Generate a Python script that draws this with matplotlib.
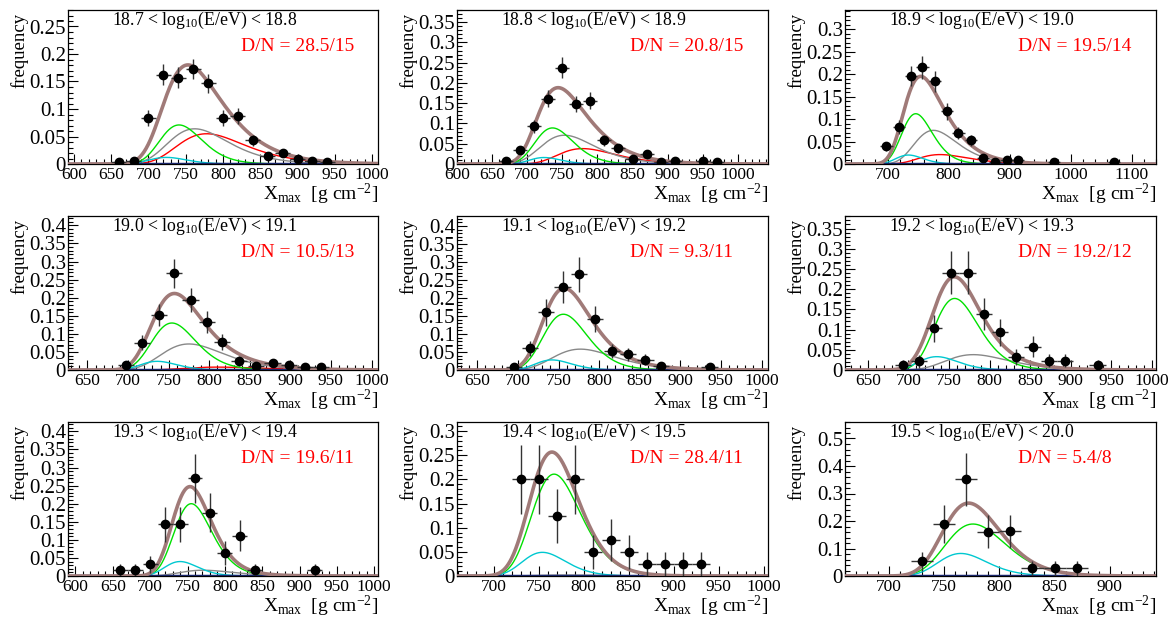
import numpy as np
import matplotlib
matplotlib.use('Agg')
import matplotlib.pyplot as plt
from matplotlib.ticker import MultipleLocator, FuncFormatter

plt.rcParams['font.family'] = 'Liberation Serif'
plt.rcParams['mathtext.fontset'] = 'custom'
plt.rcParams['mathtext.rm'] = 'Liberation Serif'
plt.rcParams['mathtext.it'] = 'Liberation Serif:italic'

# Data
titles = ['18.7 < log$_{10}$(E/eV) < 18.8', '18.8 < log$_{10}$(E/eV) < 18.9',
          '18.9 < log$_{10}$(E/eV) < 19.0', '19.0 < log$_{10}$(E/eV) < 19.1',
          '19.1 < log$_{10}$(E/eV) < 19.2', '19.2 < log$_{10}$(E/eV) < 19.3',
          '19.3 < log$_{10}$(E/eV) < 19.4', '19.4 < log$_{10}$(E/eV) < 19.5',
          '19.5 < log$_{10}$(E/eV) < 20.0']
dn_labels = ['D/N = 28.5/15', 'D/N = 20.8/15', 'D/N = 19.5/14',
             'D/N = 10.5/13', 'D/N = 9.3/11', 'D/N = 19.2/12',
             'D/N = 19.6/11', 'D/N = 28.4/11', 'D/N = 5.4/8']

x_ranges = [(592, 1008), (600, 1043), (630, 1140),
            (626, 1008), (625, 1008), (622, 1005),
            (590, 1005), (659, 1005), (660, 942)]
y_tops = [0.28, 0.38, 0.343, 0.426, 0.428, 0.381, 0.426, 0.319, 0.56]
x_major = [50, 50, 100, 50, 50, 50, 50, 50, 50]
y_major = [0.05, 0.05, 0.05, 0.05, 0.05, 0.05, 0.05, 0.05, 0.1]

xmax_bins = [
    [660, 680, 700, 720, 740, 760, 780, 800, 820, 840, 860, 880, 900, 920, 940],
    [670, 690, 710, 730, 750, 770, 790, 810, 830, 850, 870, 890, 910, 950, 970],
    [698, 718, 738, 757, 777, 797, 816, 836, 856, 876, 895, 914, 973, 1071],
    [697, 717, 738, 757, 777, 797, 816, 837, 858, 878, 898, 918, 938],
    [695, 715, 735, 755, 775, 795, 816, 836, 857, 876, 936],
    [693, 713, 732, 752, 773, 793, 813, 833, 853, 873, 893, 933],
    [660, 680, 700, 720, 740, 760, 780, 800, 820, 840, 920],
    [730, 750, 770, 790, 810, 830, 850, 870, 890, 910, 930],
    [730, 750, 770, 790, 810, 830, 850, 870],
]
freq = [
    [0.003, 0.005, 0.084, 0.162, 0.157, 0.173, 0.147, 0.084, 0.087, 0.043, 0.015, 0.020, 0.009, 0.006, 0.003],
    [0.008, 0.034, 0.093, 0.161, 0.237, 0.148, 0.156, 0.058, 0.039, 0.013, 0.025, 0.005, 0.007, 0.007, 0.004],
    [0.039, 0.082, 0.196, 0.215, 0.184, 0.117, 0.069, 0.053, 0.013, 0.005, 0.008, 0.009, 0.005, 0.005],
    [0.014, 0.076, 0.152, 0.267, 0.194, 0.133, 0.078, 0.025, 0.012, 0.019, 0.014, 0.008, 0.007],
    [0.007, 0.060, 0.160, 0.231, 0.266, 0.141, 0.052, 0.044, 0.029, 0.010, 0.009],
    [0.012, 0.022, 0.103, 0.241, 0.241, 0.138, 0.093, 0.033, 0.058, 0.023, 0.023, 0.012],
    [0.017, 0.017, 0.032, 0.143, 0.143, 0.270, 0.175, 0.064, 0.111, 0.017, 0.017],
    [0.200, 0.200, 0.125, 0.200, 0.050, 0.075, 0.050, 0.025, 0.025, 0.025, 0.025],
    [0.054, 0.189, 0.351, 0.161, 0.163, 0.028, 0.028, 0.028],
]
freq_err = [
    [0.003, 0.003, 0.015, 0.019, 0.019, 0.018, 0.017, 0.015, 0.015, 0.010, 0.006, 0.007, 0.005, 0.004, 0.003],
    [0.005, 0.010, 0.016, 0.021, 0.026, 0.020, 0.021, 0.013, 0.011, 0.006, 0.009, 0.004, 0.005, 0.005, 0.004],
    [0.011, 0.015, 0.023, 0.025, 0.023, 0.018, 0.014, 0.012, 0.006, 0.004, 0.005, 0.005, 0.004, 0.004],
    [0.010, 0.022, 0.030, 0.040, 0.034, 0.030, 0.022, 0.013, 0.009, 0.011, 0.010, 0.007, 0.007],
    [0.007, 0.021, 0.037, 0.044, 0.048, 0.036, 0.020, 0.018, 0.015, 0.009, 0.009],
    [0.012, 0.016, 0.034, 0.053, 0.053, 0.040, 0.033, 0.020, 0.026, 0.016, 0.016, 0.012],
    [0.017, 0.017, 0.024, 0.049, 0.049, 0.067, 0.054, 0.033, 0.043, 0.017, 0.017],
    [0.071, 0.071, 0.056, 0.071, 0.035, 0.043, 0.035, 0.025, 0.025, 0.025, 0.025],
    [0.035, 0.070, 0.097, 0.060, 0.060, 0.027, 0.027, 0.027],
]

# fit components: (peak Xmax, peak height, width, tail shape)
comp_red = [(778, 0.055, 45, 1.2), (779, 0.038, 40, 1.2), (786, 0.021, 40, 1.2),
            (810, 0.008, 45, 1.2), (800, 0.0, 40, 1.2), (800, 0.0, 40, 1.2),
            (800, 0.0, 40, 1.2), (800, 0.0, 40, 1.2), (800, 0.0, 40, 1.2)]
comp_gray = [(762, 0.064, 40, 1.5), (753, 0.071, 38, 1.5), (775, 0.075, 35, 1.5),
             (775, 0.072, 38, 1.5), (777, 0.058, 38, 1.5), (780, 0.038, 38, 1.5),
             (771, 0.016, 35, 1.5), (780, 0.002, 35, 1.5), (780, 0.0, 35, 1.5)]
comp_green = [(741, 0.071, 28, 3), (736, 0.089, 27, 3), (746, 0.112, 25, 3),
              (754, 0.130, 27, 3), (756, 0.155, 27, 3), (757, 0.177, 27, 3),
              (755, 0.200, 25, 3), (767, 0.211, 27, 3), (776, 0.189, 27, 3)]
comp_cyan = [(724, 0.012, 25, 4), (724, 0.016, 22, 4), (734, 0.020, 22, 4),
             (736, 0.024, 22, 4), (742, 0.028, 22, 4), (735, 0.033, 24, 4),
             (740, 0.040, 22, 4), (754, 0.049, 24, 4), (765, 0.082, 22, 4)]


def gumbel(x, mu, a, sig, lam):
    s = sig * np.sqrt(lam)
    z = (x - mu) / s
    return a * np.exp(-lam * (z + np.exp(-z) - 1))


fig = plt.figure(figsize=(11.74, 6.18), dpi=100)
W, H = 1174.0, 618.0
col_l = [68, 457, 845]
col_r = [378, 768, 1156]
row_t = [10, 216, 422]
row_b = [164, 370, 576]

fmt = FuncFormatter(lambda v, p: '%g' % round(v, 4))

for i in range(9):
    r, c = divmod(i, 3)
    ax = fig.add_axes([col_l[c] / W, 1 - row_b[r] / H,
                       (col_r[c] - col_l[c]) / W, (row_b[r] - row_t[r]) / H])
    x0, x1 = x_ranges[i]
    xx = np.linspace(x0, x1, 600)
    total = np.zeros_like(xx)
    for pars, col in [(comp_red[i], '#ff0000'), (comp_gray[i], '#888888'),
                      (comp_green[i], '#00e000'), (comp_cyan[i], '#00c8d0')]:
        yy = gumbel(xx, *pars)
        total += yy
        ax.plot(xx, yy, color=col, lw=1.0, zorder=2)
    ax.plot(xx, np.zeros_like(xx), color='#1c2a78', lw=2.5, zorder=2)
    ax.plot(xx, total, color='#a07a78', lw=2.6, zorder=3)

    ax.errorbar(xmax_bins[i], freq[i], yerr=freq_err[i], xerr=10, fmt='o',
                color='black', ms=6, ecolor='#333333', elinewidth=1,
                capsize=0, zorder=4)

    ax.set_xlim(x0, x1)
    ax.set_ylim(0, y_tops[i])
    ax.xaxis.set_major_locator(MultipleLocator(x_major[i]))
    ax.xaxis.set_minor_locator(MultipleLocator(x_major[i] / 5))
    ax.yaxis.set_major_locator(MultipleLocator(y_major[i]))
    ax.yaxis.set_minor_locator(MultipleLocator(y_major[i] / 5))
    ax.yaxis.set_major_formatter(fmt)
    ax.tick_params(which='both', direction='in', top=False, right=False)
    ax.tick_params(which='major', length=7, width=0.8)
    ax.tick_params(which='minor', length=3.5, width=0.8)
    ax.tick_params(axis='y', pad=1.5, labelsize=15)
    ax.tick_params(axis='x', pad=2, labelsize=12.5)
    for sp in ax.spines.values():
        sp.set_linewidth(0.9)

    ax.text(0.142, 0.935, titles[i], transform=ax.transAxes, fontsize=12.8,
            ha='left', va='center')
    ax.text(0.557, 0.762, dn_labels[i], transform=ax.transAxes, fontsize=14,
            color='red', ha='left', va='center')
    ax.text(-0.155, 0.98, 'frequency', transform=ax.transAxes, fontsize=13.5,
            rotation=90, ha='center', va='top')
    ax.text(1.0, -0.237, r'X$_{\rm max}$  [g cm$^{-2}$]', transform=ax.transAxes,
            fontsize=14, ha='right', va='baseline')

fig.savefig('out.png', dpi=100)
